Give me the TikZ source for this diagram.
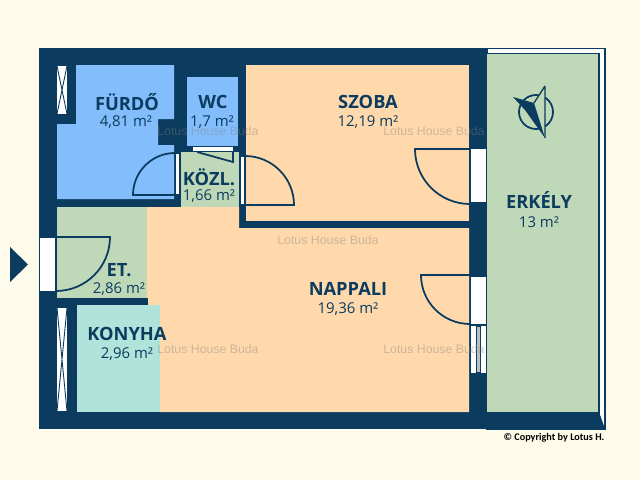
\documentclass[tikz,border=0pt]{standalone}
\usepackage{tikz}
\usepackage{amsmath}
\usepackage{fontspec}
\setmainfont{Open Sans}
\newfontfamily\markfont{Liberation Sans}
\newfontfamily\copyfont{Carlito}
\definecolor{wallblue}{HTML}{0B3B5E}
\definecolor{papercream}{HTML}{FFFBEA}
\definecolor{floororange}{HTML}{FFD9AC}
\definecolor{floorblue}{HTML}{84BDFB}
\definecolor{floorgreen}{HTML}{BFD9B8}
\definecolor{floormint}{HTML}{B0E3DA}
\begin{document}
\begin{tikzpicture}[x=0.02cm,y=-0.02cm]
	\tikzstyle{title} = [text=wallblue, font=\fontsize{10.4}{12}\selectfont\bfseries, inner sep=0pt];
	\tikzstyle{area} = [text=wallblue, font=\fontsize{8.5}{10}\selectfont, inner sep=0pt];
	\tikzstyle{stamp} = [text=gray, opacity=0.4, font=\fontsize{7}{8}\selectfont\markfont, inner sep=0pt];
	\tikzstyle{swing} = [draw=wallblue, line width=1pt];
	\tikzstyle{opening} = [fill=white, draw=none];
	\useasboundingbox (0,0) rectangle (640,480);
	\fill [papercream] (0,0) rectangle (640,480);

	% walls and balcony
	\draw [draw=wallblue, fill=white, line width=0.6pt] (487,48.5) rectangle (605,429);
	\draw [draw=wallblue, fill=floorgreen, line width=0.8pt] (487,54) rectangle (599,420);
	\fill [wallblue] (39,48) rectangle (487,429);
	\fill [wallblue] (487,412) -- (599,412) -- (605,429) -- (487,429) -- cycle;
	\fill [floorgreen] (487,54) rectangle (598,412);

	% rooms
	\fill [floororange] (246,65) rectangle (469,221);
	\fill [floororange] (147,207) -- (239,207) -- (239,228) -- (469,228) -- (469,412) -- (160,412) -- (160,305) -- (147,305) -- cycle;
	\fill [floorblue] (76,65) -- (174,65) -- (174,119) -- (158,119) -- (158,145) -- (174,145) -- (174,199) -- (57,199) -- (57,124) -- (76,124) -- cycle;
	\fill [floorblue] (187,77) rectangle (238,146);
	\fill [floorgreen] (181,152) rectangle (239,207);
	\fill [floorgreen] (57,207) rectangle (147,298);
	\fill [floormint] (77,305) rectangle (160,412);
	\fill [wallblue] (57,298) rectangle (148,305);

	% doors
	\fill [opening] (176,154) rectangle (179,194);
	\draw [swing] (176,195) -- (133,195) arc [start angle=180, end angle=270, radius=42];
	\fill [opening] (193,147) rectangle (233,151);
	\draw [swing] (197,152) -- (233,162) -- (233,152);
	\fill [opening] (241,157) rectangle (244,204);
	\draw [swing] (246,205) -- (294,205) arc [start angle=0, end angle=-90, radius=49];
	\fill [opening] (40,238) rectangle (55,291);
	\draw [swing] (56,237) -- (110,237) arc [start angle=0, end angle=90, radius=54];
	\fill [opening] (471,149) rectangle (486,202);
	\draw [swing] (470,149) -- (415,149) arc [start angle=180, end angle=90, radius=55];
	\fill [opening] (471,277) rectangle (486,324);
	\draw [swing] (470,275) -- (421,275) arc [start angle=180, end angle=90, radius=49];

	% windows
	\fill [opening] (471,326) rectangle (486,373);
	\draw [draw=wallblue, fill=lightgray, line width=0.4pt] (476,326) rectangle (480,372);
	\fill [opening] (57,66) rectangle (67,114);
	\draw [swing, line width=0.5pt] (57,66) -- (67,114) (67,66) -- (57,114);
	\fill [opening] (57,308) rectangle (67,411);
	\draw [swing, line width=0.5pt] (57,308) -- (67,411) (67,308) -- (57,411);

	% entrance mark
	\fill [wallblue] (10,247) -- (28,264.5) -- (10,282) -- cycle;

	% compass
	\draw [swing] (536,112) circle [radius=17];
	\fill [floorgreen] (545,86) -- (545,138) -- (534,103) -- cycle;
	\draw [swing, line width=0.75pt] (545,86) -- (545,138) (545,86) -- (534,103);
	\fill [wallblue] (513,97) -- (534,103) -- (545,138) -- (525,110) -- cycle;

	% labels
	\node [title] (fuerdo) at (127,102) {FÜRDŐ};
	\node [area] (fuerdom) at (126,122) {4,81 m²};
	\node [title] (wc) at (213,102) {WC};
	\node [area] (wcm) at (212,122) {1,7 m²};
	\node [title] (kozl) at (209,177) {KÖZL.};
	\node [area] (kozlm) at (209,196) {1,66 m²};
	\node [title] (szoba) at (368,102) {SZOBA};
	\node [area] (szobam) at (368,122) {12,19 m²};
	\node [title] (erkely) at (539,200) {ERKÉLY};
	\node [area] (erkelym) at (539,222) {13 m²};
	\node [title] (nappali) at (348,289) {NAPPALI};
	\node [area] (nappalim) at (348,309) {19,36 m²};
	\node [title] (et) at (119,270) {ET.};
	\node [area] (etm) at (119,289) {2,86 m²};
	\node [title] (konyha) at (127,334) {KONYHA};
	\node [area] (konyham) at (127,354) {2,96 m²};

	% watermarks
	\node [stamp] (stamp1) at (208,131) {Lotus House Buda};
	\node [stamp] (stamp2) at (434,131) {Lotus House Buda};
	\node [stamp] (stamp3) at (328,240) {Lotus House Buda};
	\node [stamp] (stamp4) at (208,349) {Lotus House Buda};
	\node [stamp] (stamp5) at (434,349) {Lotus House Buda};
	\node [text=black, font=\fontsize{5.8}{7}\selectfont\copyfont\bfseries, inner sep=0pt] (copy) at (554,438) {© Copyright by Lotus H.};
\end{tikzpicture}
\end{document}
